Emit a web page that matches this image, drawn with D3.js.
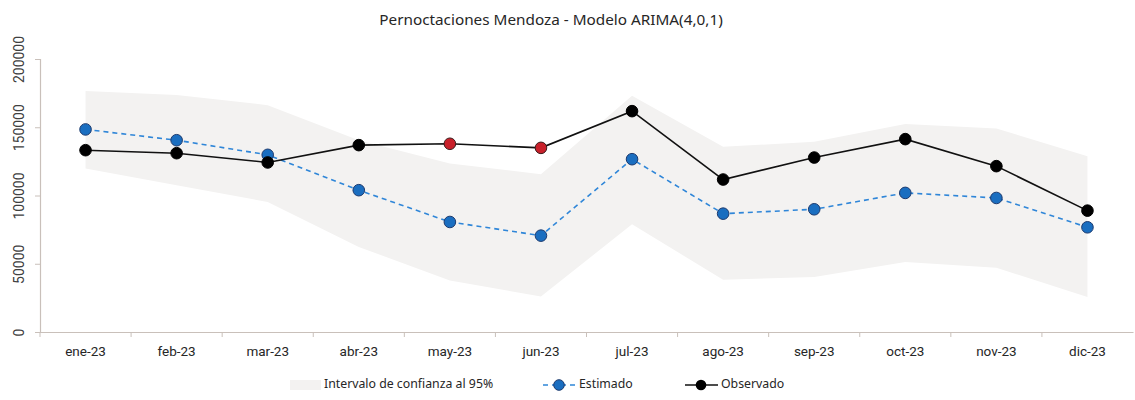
<!DOCTYPE html>
<html>
<head>
<meta charset="utf-8">
<script src="https://cdn.jsdelivr.net/npm/d3@7"></script>
<style>
  body { margin: 0; background: #fff; }
  svg text { fill: #404040; }
</style>
</head>
<body>
<div id="chart"></div>
<script>
// data
const months = ["ene-23","feb-23","mar-23","abr-23","may-23","jun-23","jul-23","ago-23","sep-23","oct-23","nov-23","dic-23"];
const estimado = [148400,140500,129800,103900,80600,70600,126600,86700,89900,101900,98200,76700];
const observado = [133200,131000,124200,136900,137900,134900,161800,111700,127800,141300,121500,88900];
const icUpper = [176500,173600,166200,140500,123400,115600,173100,135700,139300,152300,149100,128800];
const icLower = [119800,107500,95300,62300,37800,26000,78900,38300,40300,51300,47100,25600];
// months drawn in red on the observed line
const highlight = ["may-23","jun-23"];
const yTicks = [0,50000,100000,150000,200000];

const width = 1135, height = 400,
  margin = { top: 59, right: 2, bottom: 68, left: 40 };

const svg = d3.select("#chart").append("svg")
  .attr("width", width)
  .attr("height", height);

const xScale = d3.scaleBand()
  .domain(months)
  .range([margin.left, width - margin.right]);

const yScale = d3.scaleLinear()
  .domain([0, 200000])
  .range([height - margin.bottom, margin.top]);

const cx = d => xScale(d) + xScale.bandwidth() / 2;

// title
svg.append("text")
  .attr("x", 551)
  .attr("y", 25)
  .attr("text-anchor", "middle")
  .style("font-family", "'Noto Sans', sans-serif")
  .style("font-size", "15.3px")
  .style("fill", "#262626")
  .text("Pernoctaciones Mendoza - Modelo ARIMA(4,0,1)");

// confidence band
const band = d3.area()
  .x((d, i) => cx(months[i]))
  .y0((d, i) => yScale(icLower[i]))
  .y1(d => yScale(d));

svg.append("path")
  .datum(icUpper)
  .attr("fill", "#f3f2f1")
  .attr("d", band);

// axes
const xAxis = d3.axisBottom(xScale).tickSize(0).tickPadding(14);
const gx = svg.append("g")
  .attr("transform", `translate(0,${yScale(0)})`)
  .call(xAxis);
gx.select(".domain").attr("stroke", "#c9c0ba").attr("stroke-width", 1.2);
gx.selectAll("text")
  .style("font-family", "Roboto, sans-serif")
  .style("font-size", "13.5px")
  .style("fill", "#262626");
// tick marks between categories
gx.selectAll(".sep")
  .data(months)
  .enter().append("line")
  .attr("x1", d => xScale(d))
  .attr("x2", d => xScale(d))
  .attr("y1", 0)
  .attr("y2", 5)
  .attr("stroke", "#c9c0ba");

const yAxis = d3.axisLeft(yScale).tickValues(yTicks).tickFormat(d3.format("d"))
  .tickSize(5).tickPadding(16);
const gy = svg.append("g")
  .attr("transform", `translate(${margin.left},0)`)
  .call(yAxis);
gy.select(".domain").attr("stroke", "#c9c0ba").attr("stroke-width", 1.2);
gy.selectAll(".tick line").attr("stroke", "#c9c0ba");
gy.selectAll("text")
  .style("font-family", "Roboto, sans-serif")
  .style("font-size", "14px")
  .style("fill", "#404040")
  .attr("text-anchor", "middle")
  .attr("x", 0)
  .attr("dy", 0)
  .attr("transform", "translate(-20,0) rotate(-90)")
  .attr("dominant-baseline", "middle");

// estimated line
const lineEst = d3.line()
  .x((d, i) => cx(months[i]))
  .y(d => yScale(d));

svg.append("path")
  .datum(estimado)
  .attr("fill", "none")
  .attr("stroke", "#2f86d8")
  .attr("stroke-width", 1.6)
  .attr("stroke-dasharray", "5,4")
  .attr("d", lineEst);

// observed line
svg.append("path")
  .datum(observado)
  .attr("fill", "none")
  .attr("stroke", "#111")
  .attr("stroke-width", 1.6)
  .attr("d", lineEst);

svg.append("g")
  .selectAll("circle")
  .data(estimado)
  .enter().append("circle")
  .attr("cx", (d, i) => cx(months[i]))
  .attr("cy", d => yScale(d))
  .attr("r", 5.8)
  .attr("fill", "#1a6ec0")
  .attr("stroke", "#1c3a6e")
  .attr("stroke-width", 1);

svg.append("g")
  .selectAll("circle")
  .data(observado)
  .enter().append("circle")
  .attr("cx", (d, i) => cx(months[i]))
  .attr("cy", d => yScale(d))
  .attr("r", 5.8)
  .attr("fill", (d, i) => highlight.includes(months[i]) ? "#c8202a" : "#000")
  .attr("stroke", (d, i) => highlight.includes(months[i]) ? "#3a1a1a" : "#000")
  .attr("stroke-width", 1);

// legend
const ly = 385;
const legend = svg.append("g")
  .style("font-family", "'Noto Sans', sans-serif")
  .style("font-size", "12.3px");

legend.append("rect")
  .attr("x", 290).attr("y", ly - 5)
  .attr("width", 31).attr("height", 10)
  .attr("fill", "#f3f2f1");
legend.append("text")
  .attr("x", 324).attr("y", ly)
  .attr("dominant-baseline", "middle")
  .style("fill", "#262626")
  .text("Intervalo de confianza al 95%");

legend.append("line")
  .attr("x1", 543).attr("x2", 576)
  .attr("y1", ly).attr("y2", ly)
  .attr("stroke", "#2f86d8")
  .attr("stroke-width", 1.6)
  .attr("stroke-dasharray", "5,4");
legend.append("circle")
  .attr("cx", 559).attr("cy", ly).attr("r", 5.3)
  .attr("fill", "#1a6ec0").attr("stroke", "#1c3a6e");
legend.append("text")
  .attr("x", 579).attr("y", ly)
  .attr("dominant-baseline", "middle")
  .style("fill", "#262626")
  .text("Estimado");

legend.append("line")
  .attr("x1", 685).attr("x2", 718)
  .attr("y1", ly).attr("y2", ly)
  .attr("stroke", "#111")
  .attr("stroke-width", 1.6);
legend.append("circle")
  .attr("cx", 701).attr("cy", ly).attr("r", 5.3)
  .attr("fill", "#000");
legend.append("text")
  .attr("x", 721).attr("y", ly)
  .attr("dominant-baseline", "middle")
  .style("fill", "#262626")
  .text("Observado");
</script>
</body>
</html>
